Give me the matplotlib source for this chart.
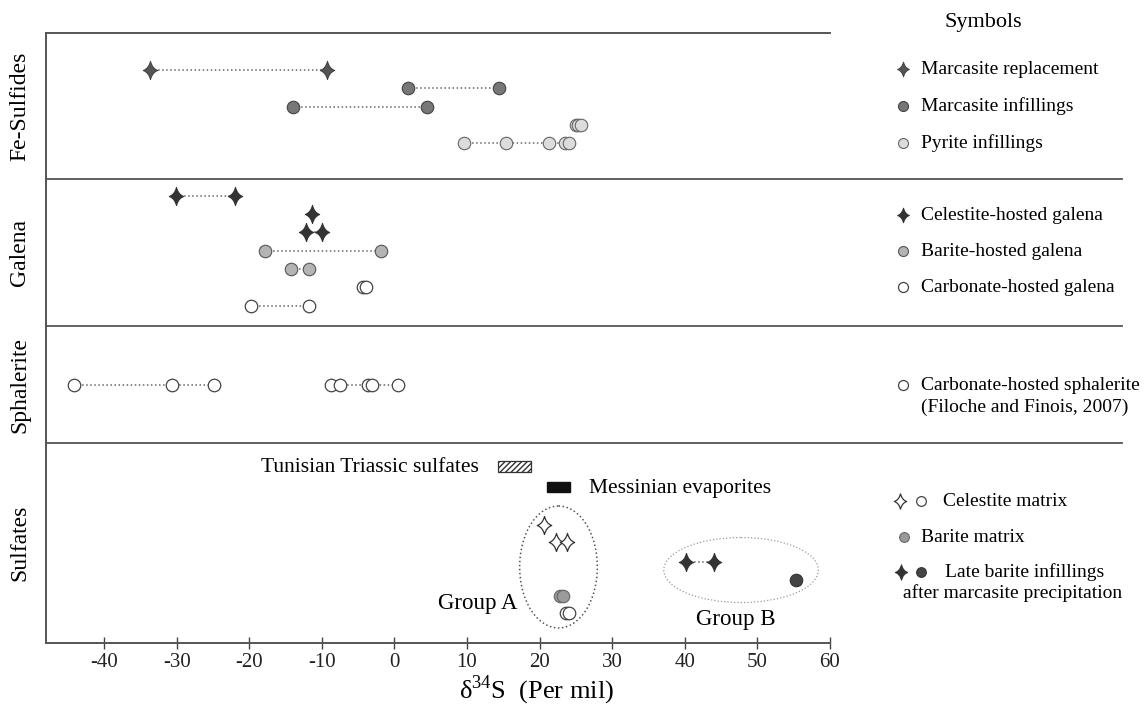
import matplotlib
matplotlib.use("Agg")
import matplotlib.pyplot as plt
from matplotlib.path import Path
from matplotlib.patches import Rectangle, Ellipse

plt.rcParams['font.family'] = ['Liberation Serif', 'DejaVu Serif']
plt.rcParams['mathtext.fontset'] = 'custom'
plt.rcParams['mathtext.rm'] = 'Liberation Serif'

# delta34S values (per mil), one list per row
fe_marc_repl = [[-33.7, -9.35]]
fe_marc_inf = [[1.9, 14.4], [-14.0, 4.5]]
fe_pyrite = [[25.0, 25.3, 25.7], [9.6, 15.4, 21.3, 23.5, 24.0]]
gal_celestite = [[-30.1, -21.9], [-11.3], [-12.2, -10.0]]
gal_barite = [[-17.9, -1.8], [-14.3, -11.8]]
gal_carbonate = [[-4.3, -3.9], [-19.8, -11.8]]
sph_carbonate = [[-44.2, -30.7, -24.9], [-8.8, -7.5, -3.6, -3.1, 0.5]]
sulf_celestite_star = [[20.6], [22.3, 23.8]]
sulf_barite = [[22.8, 23.2]]
sulf_celestite_circ = [[23.6, 24.1]]
late_barite_star = [[40.2, 44.0]]
late_barite_circ = [[55.3]]
tunisian_range = [14.2, 18.8]
messinian_range = [21.0, 24.2]
group_a = [17.25, 27.95]
group_b = [37.1, 58.4]
xticks = [-40, -30, -20, -10, 0, 10, 20, 30, 40, 50, 60]

W, H = 1148, 710
fig = plt.figure(figsize=(W / 100, H / 100), dpi=100)
ax = fig.add_axes([46 / W, 1 - 643 / H, 784 / W, 610 / H])
ax.set_xlim(-48, 60)
ax.set_ylim(643, 33)  # vertical layout in pixel rows

# 4-pointed sparkle star
c = 0.2
star = Path([(0.8, 0), (c, c), (0, 1), (-c, c), (-0.8, 0), (-c, -c), (0, -1), (c, -c), (0.8, 0), (0.8, 0)],
            [Path.MOVETO, Path.CURVE3, Path.CURVE3, Path.CURVE3, Path.CURVE3,
             Path.CURVE3, Path.CURVE3, Path.CURVE3, Path.CURVE3, Path.CLOSEPOLY])

sty = {
    'marc_repl': dict(marker=star, ms=13, mfc='#555555', mec='#444444', mew=0.8),
    'marc_inf': dict(marker='o', ms=9, mfc='#777777', mec='#444444', mew=0.8),
    'pyrite': dict(marker='o', ms=9, mfc='#dcdcdc', mec='#666666', mew=0.8),
    'gal_cel': dict(marker=star, ms=13, mfc='#333333', mec='#333333', mew=0.8),
    'gal_bar': dict(marker='o', ms=9, mfc='#b4b4b4', mec='#555555', mew=0.8),
    'carb': dict(marker='o', ms=9, mfc='white', mec='#444444', mew=0.9),
    'cel_star': dict(marker=star, ms=13, mfc='white', mec='#333333', mew=0.9),
    'sulf_bar': dict(marker='o', ms=9, mfc='#9a9a9a', mec='#666666', mew=0.8),
    'late_circ': dict(marker='o', ms=9, mfc='#444444', mec='#333333', mew=0.8),
}


def draw_rows(rows, ys, key, lcol='#666666'):
    for xs, y in zip(rows, ys):
        ax.plot(xs, [y] * len(xs), ls=':', lw=1.1, color=lcol, zorder=3, **sty[key])


draw_rows(fe_marc_repl, [70], 'marc_repl')
draw_rows(fe_marc_inf, [88, 107], 'marc_inf')
draw_rows(fe_pyrite, [125, 143], 'pyrite')
draw_rows(gal_celestite, [196, 214, 232], 'gal_cel')
draw_rows(gal_barite, [251, 269], 'gal_bar')
draw_rows(gal_carbonate, [287, 306], 'carb')
draw_rows(sph_carbonate, [385, 385], 'carb')
draw_rows(sulf_celestite_star, [525, 542], 'cel_star')
draw_rows(sulf_barite, [596], 'sulf_bar')
draw_rows(sulf_celestite_circ, [613], 'carb')
draw_rows(late_barite_star, [562], 'gal_cel')
draw_rows(late_barite_circ, [580], 'late_circ')

ax.add_patch(Rectangle((tunisian_range[0], 461), tunisian_range[1] - tunisian_range[0], 11,
                       facecolor='white', edgecolor='#333333', hatch='//////', lw=0.9))
ax.add_patch(Rectangle((messinian_range[0], 482), messinian_range[1] - messinian_range[0], 10,
                       facecolor='#111111', edgecolor='#111111'))
ax.text(tunisian_range[0] - 2.6, 467, 'Tunisian Triassic sulfates', fontsize=15.5, ha='right', va='center')
ax.text(messinian_range[1] + 2.6, 488, 'Messinian evaporites', fontsize=15.5, ha='left', va='center')

ax.add_patch(Ellipse((sum(group_a) / 2, 567), group_a[1] - group_a[0], 122, fill=False,
                     ls=':', lw=1.1, edgecolor='#555555'))
ax.add_patch(Ellipse((sum(group_b) / 2, 570), group_b[1] - group_b[0], 65, fill=False,
                     ls=':', lw=0.9, edgecolor='#999999'))
ax.text(group_a[0] - 0.3, 603, 'Group A', fontsize=16.5, ha='right', va='center')
ax.text(sum(group_b) / 2 - 0.7, 620, 'Group B', fontsize=16.5, ha='center', va='center')

ax.spines['right'].set_visible(False)
for s in ['top', 'left', 'bottom']:
    ax.spines[s].set_color('#555555')
    ax.spines[s].set_linewidth(1.4)
ax.set_yticks([])
ax.set_xticks(xticks)
ax.set_xticklabels([str(t) for t in xticks])
ax.tick_params(axis='x', direction='inout', length=8, width=1, color='#444444',
               labelsize=15, pad=3, labelcolor='#222222')

# overlay in pixel coordinates for separators, panel names and symbol key
ov = fig.add_axes([0, 0, 1, 1])
ov.set_xlim(0, W)
ov.set_ylim(H, 0)
ov.axis('off')
for y in [179, 326, 443]:
    ov.plot([46, 1122], [y, y], color='#555555', lw=1.3)

for name, y in [('Fe-Sulfides', 106), ('Galena', 252), ('Sphalerite', 385), ('Sulfates', 543)]:
    ov.text(20, y, name, rotation=90, fontsize=17, ha='center', va='center')

ov.text(537, 690, r'δ$^{34}$S  (Per mil)', fontsize=19, ha='center', va='center')
ov.text(983, 23, 'Symbols', fontsize=16, ha='center', va='center')

key = [
    ('marc_repl', 'Marcasite replacement', 69),
    ('marc_inf', 'Marcasite infillings', 106),
    ('pyrite', 'Pyrite infillings', 143),
    ('gal_cel', 'Celestite-hosted galena', 215),
    ('gal_bar', 'Barite-hosted galena', 251),
    ('carb', 'Carbonate-hosted galena', 287),
    ('carb', 'Carbonate-hosted sphalerite', 385),
]
for k, label, y in key:
    st = dict(sty[k])
    st['ms'] = st['ms'] * 0.8
    ov.plot([903], [y], ls='none', **st)
    ov.text(921, y, label, fontsize=14, ha='left', va='center')
ov.text(921, 407, '(Filoche and Finois, 2007)', fontsize=14, ha='left', va='center')

ov.plot([900], [501], ls='none', **dict(sty['cel_star'], ms=11))
ov.plot([921], [501], ls='none', **dict(sty['carb'], ms=7))
ov.text(943, 501, 'Celestite matrix', fontsize=14, ha='left', va='center')
ov.plot([904], [537], ls='none', **dict(sty['sulf_bar'], ms=7))
ov.text(921, 537, 'Barite matrix', fontsize=14, ha='left', va='center')
ov.plot([901], [572], ls='none', **dict(sty['gal_cel'], ms=11))
ov.plot([921], [572], ls='none', **dict(sty['late_circ'], ms=7))
ov.text(945, 572, 'Late barite infillings', fontsize=14, ha='left', va='center')
ov.text(903, 593, 'after marcasite precipitation', fontsize=14, ha='left', va='center')

fig.savefig('out.png', dpi=100)
